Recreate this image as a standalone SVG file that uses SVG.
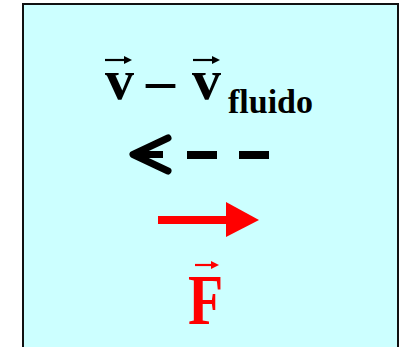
<svg xmlns="http://www.w3.org/2000/svg" width="400" height="347" viewBox="0 0 400 347">
  <defs>
    <style>
      .t { font-family: "Liberation Serif", "Times New Roman", serif; font-weight: bold; }
      .blk { fill: #000000; }
      .red { fill: #FF0000; }
    </style>
  </defs>
  <rect x="0" y="0" width="400" height="347" fill="#FFFFFF"/>
  <g id="panel">
    <rect x="23" y="4" width="375" height="360" fill="#CCFFFF" stroke="#111111" stroke-width="2"/>
  </g>
  <g id="label-velocity">
    <text class="t blk" x="105" y="99" font-size="58">v</text>
    <text class="t blk" x="146" y="99" font-size="58">–</text>
    <text class="t blk" x="192" y="99" font-size="58">v</text>
    <text class="t blk" x="228" y="113" font-size="34">fluido</text>
    <path d="M105 60 H126" stroke="#000" stroke-width="2.2" fill="none"/>
    <polygon points="124,56 132,60 124,64" fill="#000"/>
    <path d="M193 60 H214" stroke="#000" stroke-width="2.2" fill="none"/>
    <polygon points="212,56 220,60 212,64" fill="#000"/>
  </g>
  <g id="connectors">
    <g id="dashed-arrow">
      <polyline points="168,138 133,154.5 168,171" fill="none" stroke="#000" stroke-width="7" stroke-linecap="round" stroke-linejoin="round"/>
      <path d="M134 154.5 H163" stroke="#000" stroke-width="7" fill="none"/>
      <rect x="187" y="151" width="30" height="8" fill="#000"/>
      <rect x="239" y="151" width="30" height="8" fill="#000"/>
    </g>
    <g id="force-arrow">
      <rect x="158" y="216" width="69" height="8" fill="#FF0000"/>
      <polygon points="226,202 259,220 226,237" fill="#FF0000"/>
    </g>
  </g>
  <g id="label-force">
    <text class="t red" x="0" y="0" font-size="72" transform="translate(188 324) scale(0.8 1)">F</text>
    <path d="M195 265 H213" stroke="#FF0000" stroke-width="2.2" fill="none"/>
    <polygon points="211,261 219,265 211,269" fill="#FF0000"/>
  </g>
</svg>
